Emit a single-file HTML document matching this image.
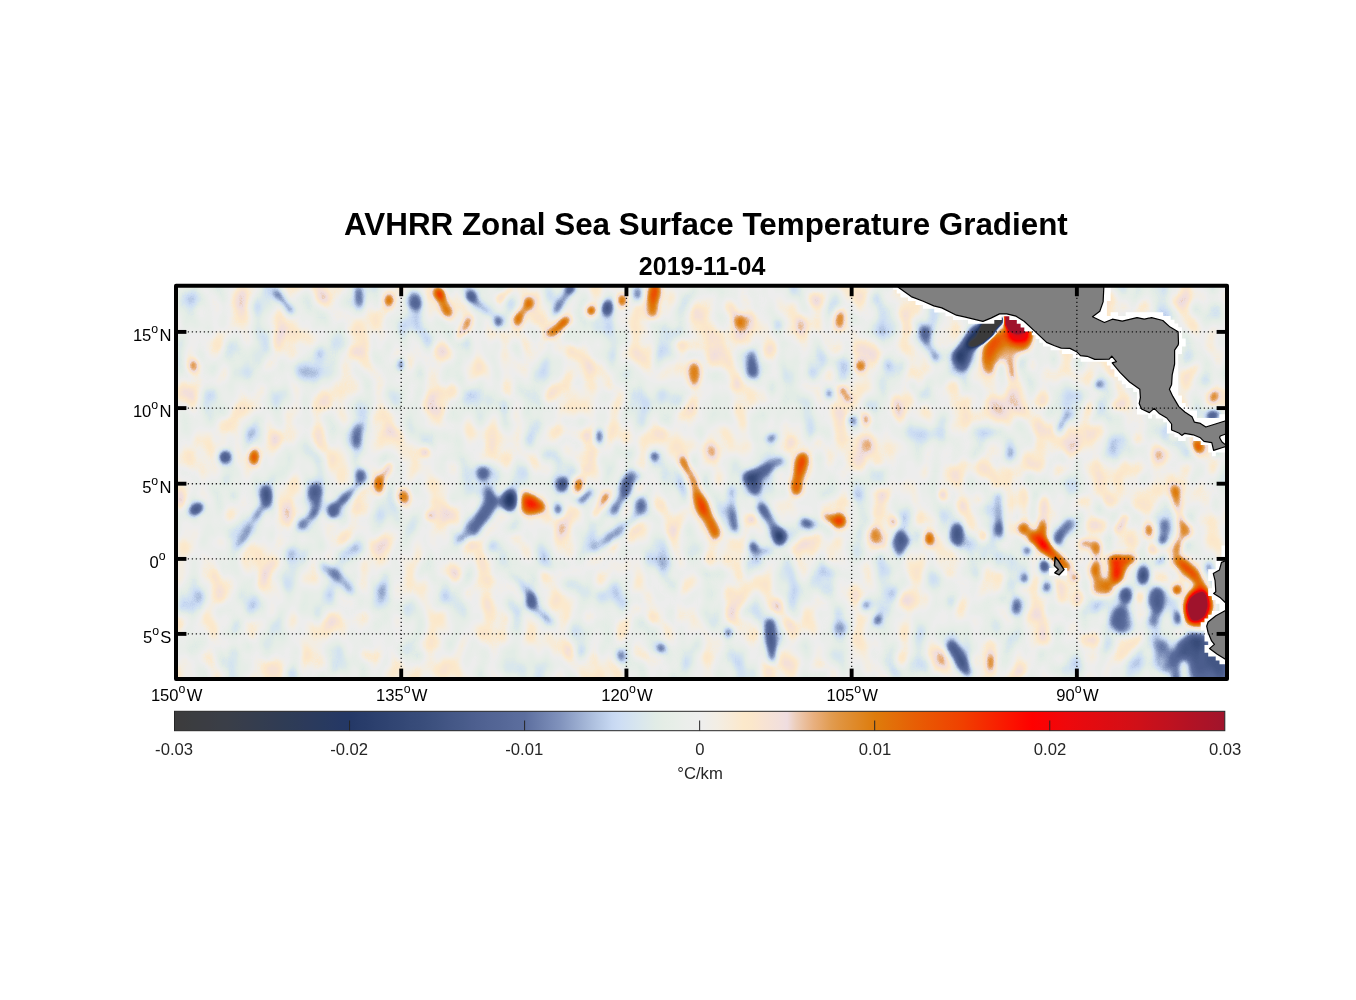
<!DOCTYPE html>
<html><head><meta charset="utf-8"><title>AVHRR Zonal Sea Surface Temperature Gradient</title>
<style>html,body{margin:0;padding:0;background:#fff}body{width:1356px;height:1000px;overflow:hidden;font-family:"Liberation Sans",sans-serif}svg{display:block;position:absolute;left:0;top:0}text{font-family:"Liberation Sans",sans-serif}</style></head><body>
<svg width="1356" height="1000" viewBox="0 0 1356 1000">
<defs>
<clipPath id="clip"><rect x="176" y="285.7" width="1051" height="393.3"/></clipPath>
<filter id="bl2" x="150" y="260" width="1110" height="450" filterUnits="userSpaceOnUse" color-interpolation-filters="sRGB"><feGaussianBlur stdDeviation="3.7"/></filter>
<filter id="bl1" x="150" y="260" width="1110" height="450" filterUnits="userSpaceOnUse" color-interpolation-filters="sRGB"><feGaussianBlur stdDeviation="1.8"/></filter>
<filter id="bl4" x="150" y="260" width="1110" height="450" filterUnits="userSpaceOnUse" color-interpolation-filters="sRGB"><feGaussianBlur stdDeviation="4.0"/></filter>
<filter id="cm" x="170" y="280" width="1064" height="406" filterUnits="userSpaceOnUse" color-interpolation-filters="sRGB">
<feTurbulence type="fractalNoise" baseFrequency="0.040 0.026" numOctaves="2" seed="7" result="n"/>
<feColorMatrix in="n" type="matrix" values="0.185 0 0 0 0.4075  0.185 0 0 0 0.4075  0.185 0 0 0 0.4075  0 0 0 0 1" result="n2"/>
<feComposite in="SourceGraphic" in2="n2" operator="arithmetic" k1="0" k2="1" k3="1" k4="-0.5" result="s"/>
<feComponentTransfer in="s"><feFuncR type="table" tableValues="0.235 0.235 0.235 0.235 0.235 0.235 0.235 0.235 0.235 0.235 0.235 0.235 0.235 0.235 0.235 0.235 0.235 0.235 0.235 0.235 0.235 0.234 0.233 0.231 0.230 0.229 0.227 0.221 0.214 0.208 0.201 0.195 0.188 0.182 0.176 0.171 0.165 0.159 0.153 0.147 0.141 0.151 0.161 0.171 0.180 0.190 0.200 0.210 0.220 0.232 0.245 0.258 0.271 0.283 0.296 0.309 0.322 0.331 0.341 0.351 0.361 0.396 0.431 0.467 0.502 0.549 0.596 0.643 0.690 0.734 0.778 0.808 0.827 0.847 0.865 0.883 0.897 0.907 0.918 0.925 0.933 0.943 0.953 0.964 0.976 0.988 0.986 0.975 0.965 0.951 0.937 0.925 0.918 0.910 0.897 0.884 0.877 0.876 0.874 0.872 0.871 0.878 0.886 0.894 0.902 0.910 0.916 0.922 0.929 0.935 0.941 0.949 0.957 0.965 0.973 0.980 0.987 0.993 1.000 0.983 0.967 0.950 0.933 0.919 0.904 0.889 0.875 0.860 0.845 0.830 0.816 0.797 0.778 0.759 0.740 0.722 0.703 0.684 0.665 0.646 0.627 0.627 0.627 0.627 0.627 0.627 0.627 0.627 0.627 0.627 0.627 0.627 0.627 0.627 0.627 0.627 0.627 0.627 0.627 0.627 0.627"/><feFuncG type="table" tableValues="0.235 0.235 0.235 0.235 0.235 0.235 0.235 0.235 0.235 0.235 0.235 0.235 0.235 0.235 0.235 0.235 0.235 0.235 0.235 0.235 0.235 0.237 0.238 0.239 0.241 0.242 0.243 0.242 0.241 0.239 0.238 0.237 0.235 0.233 0.231 0.229 0.227 0.225 0.224 0.222 0.220 0.229 0.239 0.249 0.259 0.269 0.278 0.288 0.298 0.310 0.322 0.333 0.345 0.357 0.369 0.380 0.392 0.402 0.412 0.422 0.431 0.467 0.502 0.537 0.573 0.620 0.667 0.714 0.761 0.803 0.846 0.872 0.887 0.902 0.913 0.925 0.930 0.932 0.933 0.933 0.933 0.933 0.933 0.926 0.919 0.913 0.904 0.895 0.886 0.876 0.867 0.804 0.747 0.690 0.651 0.612 0.582 0.558 0.534 0.510 0.486 0.461 0.436 0.411 0.386 0.361 0.339 0.317 0.295 0.273 0.251 0.220 0.188 0.157 0.125 0.094 0.063 0.031 0.000 0.008 0.016 0.024 0.031 0.035 0.039 0.043 0.047 0.051 0.055 0.059 0.063 0.064 0.066 0.067 0.069 0.071 0.072 0.074 0.075 0.077 0.078 0.078 0.078 0.078 0.078 0.078 0.078 0.078 0.078 0.078 0.078 0.078 0.078 0.078 0.078 0.078 0.078 0.078 0.078 0.078 0.078"/><feFuncB type="table" tableValues="0.235 0.235 0.235 0.235 0.235 0.235 0.235 0.235 0.235 0.235 0.235 0.235 0.235 0.235 0.235 0.235 0.235 0.235 0.235 0.235 0.235 0.243 0.251 0.259 0.267 0.275 0.282 0.290 0.298 0.306 0.314 0.322 0.329 0.338 0.347 0.356 0.365 0.374 0.382 0.391 0.400 0.410 0.420 0.429 0.439 0.449 0.459 0.469 0.478 0.491 0.504 0.517 0.529 0.542 0.555 0.568 0.580 0.590 0.600 0.610 0.620 0.649 0.678 0.708 0.737 0.773 0.808 0.843 0.878 0.914 0.950 0.957 0.945 0.933 0.919 0.904 0.903 0.910 0.918 0.925 0.933 0.914 0.894 0.862 0.830 0.797 0.797 0.818 0.839 0.859 0.878 0.725 0.614 0.502 0.410 0.319 0.252 0.201 0.149 0.098 0.047 0.041 0.035 0.028 0.022 0.016 0.013 0.009 0.006 0.003 0.000 0.000 0.000 0.000 0.000 0.000 0.000 0.000 0.000 0.012 0.024 0.035 0.047 0.053 0.059 0.065 0.071 0.076 0.082 0.088 0.094 0.102 0.110 0.118 0.125 0.133 0.141 0.149 0.157 0.165 0.173 0.173 0.173 0.173 0.173 0.173 0.173 0.173 0.173 0.173 0.173 0.173 0.173 0.173 0.173 0.173 0.173 0.173 0.173 0.173 0.173"/><feFuncA type="linear" slope="0" intercept="1"/></feComponentTransfer>
</filter>
<linearGradient id="cb" x1="0" x2="1" y1="0" y2="0">
<stop offset="0.0000" stop-color="#3c3c3c"/>
<stop offset="0.0083" stop-color="#3c3c3e"/>
<stop offset="0.0167" stop-color="#3b3d40"/>
<stop offset="0.0250" stop-color="#3b3d42"/>
<stop offset="0.0333" stop-color="#3b3d44"/>
<stop offset="0.0417" stop-color="#3a3e46"/>
<stop offset="0.0500" stop-color="#3a3e48"/>
<stop offset="0.0583" stop-color="#383e4a"/>
<stop offset="0.0667" stop-color="#373d4c"/>
<stop offset="0.0750" stop-color="#353d4e"/>
<stop offset="0.0833" stop-color="#333d50"/>
<stop offset="0.0917" stop-color="#323c52"/>
<stop offset="0.1000" stop-color="#303c54"/>
<stop offset="0.1083" stop-color="#2e3c56"/>
<stop offset="0.1167" stop-color="#2d3b58"/>
<stop offset="0.1250" stop-color="#2c3a5b"/>
<stop offset="0.1333" stop-color="#2a3a5d"/>
<stop offset="0.1417" stop-color="#283a5f"/>
<stop offset="0.1500" stop-color="#273962"/>
<stop offset="0.1583" stop-color="#253864"/>
<stop offset="0.1667" stop-color="#243866"/>
<stop offset="0.1750" stop-color="#273b69"/>
<stop offset="0.1833" stop-color="#293d6b"/>
<stop offset="0.1917" stop-color="#2c406e"/>
<stop offset="0.2000" stop-color="#2e4270"/>
<stop offset="0.2083" stop-color="#314573"/>
<stop offset="0.2167" stop-color="#334775"/>
<stop offset="0.2250" stop-color="#364a78"/>
<stop offset="0.2333" stop-color="#384c7a"/>
<stop offset="0.2417" stop-color="#3b4f7d"/>
<stop offset="0.2500" stop-color="#3e5280"/>
<stop offset="0.2583" stop-color="#425584"/>
<stop offset="0.2667" stop-color="#455887"/>
<stop offset="0.2750" stop-color="#485b8a"/>
<stop offset="0.2833" stop-color="#4c5e8e"/>
<stop offset="0.2917" stop-color="#4f6191"/>
<stop offset="0.3000" stop-color="#526494"/>
<stop offset="0.3083" stop-color="#546696"/>
<stop offset="0.3167" stop-color="#576999"/>
<stop offset="0.3250" stop-color="#5a6c9c"/>
<stop offset="0.3333" stop-color="#5c6e9e"/>
<stop offset="0.3417" stop-color="#6577a6"/>
<stop offset="0.3500" stop-color="#6e80ad"/>
<stop offset="0.3583" stop-color="#7789b5"/>
<stop offset="0.3667" stop-color="#8092bc"/>
<stop offset="0.3750" stop-color="#8c9ec5"/>
<stop offset="0.3833" stop-color="#98aace"/>
<stop offset="0.3917" stop-color="#a4b6d7"/>
<stop offset="0.4000" stop-color="#b0c2e0"/>
<stop offset="0.4083" stop-color="#bbcde9"/>
<stop offset="0.4167" stop-color="#c7d8f2"/>
<stop offset="0.4250" stop-color="#cedef4"/>
<stop offset="0.4333" stop-color="#d3e2f1"/>
<stop offset="0.4417" stop-color="#d8e6ee"/>
<stop offset="0.4500" stop-color="#dde9ea"/>
<stop offset="0.4583" stop-color="#e1ece6"/>
<stop offset="0.4667" stop-color="#e5ede6"/>
<stop offset="0.4750" stop-color="#e7eee8"/>
<stop offset="0.4833" stop-color="#eaeeea"/>
<stop offset="0.4917" stop-color="#eceeec"/>
<stop offset="0.5000" stop-color="#eeeeee"/>
<stop offset="0.5083" stop-color="#f0eee9"/>
<stop offset="0.5167" stop-color="#f3eee4"/>
<stop offset="0.5250" stop-color="#f6ecdc"/>
<stop offset="0.5333" stop-color="#f9ead4"/>
<stop offset="0.5417" stop-color="#fce9cb"/>
<stop offset="0.5500" stop-color="#fbe7cb"/>
<stop offset="0.5583" stop-color="#f9e4d1"/>
<stop offset="0.5667" stop-color="#f6e2d6"/>
<stop offset="0.5750" stop-color="#f3e0db"/>
<stop offset="0.5833" stop-color="#efdde0"/>
<stop offset="0.5917" stop-color="#eccdb9"/>
<stop offset="0.6000" stop-color="#eabe9c"/>
<stop offset="0.6083" stop-color="#e8b080"/>
<stop offset="0.6167" stop-color="#e5a669"/>
<stop offset="0.6250" stop-color="#e19c51"/>
<stop offset="0.6333" stop-color="#e09440"/>
<stop offset="0.6417" stop-color="#df8e33"/>
<stop offset="0.6500" stop-color="#df8826"/>
<stop offset="0.6583" stop-color="#de8219"/>
<stop offset="0.6667" stop-color="#de7c0c"/>
<stop offset="0.6750" stop-color="#e0760a"/>
<stop offset="0.6833" stop-color="#e26f09"/>
<stop offset="0.6917" stop-color="#e46907"/>
<stop offset="0.7000" stop-color="#e66206"/>
<stop offset="0.7083" stop-color="#e85c04"/>
<stop offset="0.7167" stop-color="#ea5603"/>
<stop offset="0.7250" stop-color="#eb5102"/>
<stop offset="0.7333" stop-color="#ed4b02"/>
<stop offset="0.7417" stop-color="#ee4601"/>
<stop offset="0.7500" stop-color="#f04000"/>
<stop offset="0.7583" stop-color="#f23800"/>
<stop offset="0.7667" stop-color="#f43000"/>
<stop offset="0.7750" stop-color="#f62800"/>
<stop offset="0.7833" stop-color="#f82000"/>
<stop offset="0.7917" stop-color="#fa1800"/>
<stop offset="0.8000" stop-color="#fc1000"/>
<stop offset="0.8083" stop-color="#fd0800"/>
<stop offset="0.8167" stop-color="#ff0000"/>
<stop offset="0.8250" stop-color="#fb0203"/>
<stop offset="0.8333" stop-color="#f60406"/>
<stop offset="0.8417" stop-color="#f20609"/>
<stop offset="0.8500" stop-color="#ee080c"/>
<stop offset="0.8583" stop-color="#ea090d"/>
<stop offset="0.8667" stop-color="#e60a0f"/>
<stop offset="0.8750" stop-color="#e30b10"/>
<stop offset="0.8833" stop-color="#df0c12"/>
<stop offset="0.8917" stop-color="#db0d13"/>
<stop offset="0.9000" stop-color="#d80e15"/>
<stop offset="0.9083" stop-color="#d40f16"/>
<stop offset="0.9167" stop-color="#d01018"/>
<stop offset="0.9250" stop-color="#cb101a"/>
<stop offset="0.9333" stop-color="#c6111c"/>
<stop offset="0.9417" stop-color="#c2111e"/>
<stop offset="0.9500" stop-color="#bd1220"/>
<stop offset="0.9583" stop-color="#b81222"/>
<stop offset="0.9667" stop-color="#b31224"/>
<stop offset="0.9750" stop-color="#ae1326"/>
<stop offset="0.9833" stop-color="#aa1328"/>
<stop offset="0.9917" stop-color="#a5142a"/>
<stop offset="1.0000" stop-color="#a0142c"/>
</linearGradient>
</defs>
<g clip-path="url(#clip)">
<g filter="url(#cm)">
<rect x="160" y="270" width="1090" height="430" fill="#7e7e7e"/>
<g filter="url(#bl4)">
<ellipse cx="1000" cy="410" rx="22" ry="14" fill="#878787"/>
<ellipse cx="1060" cy="440" rx="24" ry="16" fill="#878787"/>
<ellipse cx="1110" cy="470" rx="26" ry="12" fill="#878787"/>
<ellipse cx="1150" cy="500" rx="24" ry="14" fill="#878787"/>
<ellipse cx="1020" cy="470" rx="20" ry="10" fill="#878787"/>
<ellipse cx="965" cy="470" rx="14" ry="12" fill="#878787"/>
<ellipse cx="1130" cy="540" rx="16" ry="14" fill="#878787"/>
<ellipse cx="760" cy="330" rx="30" ry="18" fill="#868686"/>
<ellipse cx="880" cy="350" rx="26" ry="16" fill="#868686"/>
<ellipse cx="850" cy="450" rx="26" ry="14" fill="#868686"/>
<ellipse cx="305" cy="370" rx="4" ry="9" fill="#777777"/>
<ellipse cx="321" cy="353" rx="5" ry="6" fill="#646464"/>
<ellipse cx="251" cy="432" rx="4" ry="7" fill="#646464"/>
<ellipse cx="200" cy="298" rx="9" ry="7" fill="#777777" transform="rotate(-30 200 298)"/>
<ellipse cx="233" cy="344" rx="5" ry="7" fill="#6f6f6f"/>
<polyline points="270,372 252,392" stroke="#6f6f6f" stroke-width="6" fill="none" stroke-linecap="round" stroke-linejoin="round"/>
<ellipse cx="343" cy="303" rx="4" ry="12" fill="#6f6f6f"/>
<ellipse cx="425" cy="340" rx="5" ry="9" fill="#6f6f6f"/>
<ellipse cx="420" cy="392" rx="6" ry="5" fill="#6f6f6f"/>
<ellipse cx="240" cy="300" rx="10" ry="14" fill="#838383"/>
<ellipse cx="215" cy="350" rx="7" ry="10" fill="#8a8a8a"/>
<ellipse cx="207" cy="382" rx="9" ry="8" fill="#8a8a8a"/>
<ellipse cx="277" cy="340" rx="5" ry="12" fill="#8c8c8c" transform="rotate(10 277 340)"/>
<ellipse cx="298" cy="355" rx="6" ry="8" fill="#8c8c8c" transform="rotate(30 298 355)"/>
<ellipse cx="321" cy="300" rx="8" ry="8" fill="#8b8b8b"/>
<ellipse cx="322" cy="402" rx="9" ry="9" fill="#8a8a8a"/>
<ellipse cx="355" cy="352" rx="8" ry="6" fill="#8c8c8c"/>
<ellipse cx="370" cy="370" rx="10" ry="12" fill="#898989"/>
<ellipse cx="355" cy="385" rx="8" ry="10" fill="#8a8a8a"/>
<ellipse cx="224" cy="425" rx="5" ry="9" fill="#8c8c8c"/>
<ellipse cx="275" cy="437" rx="8" ry="7" fill="#8b8b8b"/>
<ellipse cx="320" cy="440" rx="7" ry="12" fill="#8a8a8a"/>
<ellipse cx="378" cy="418" rx="8" ry="6" fill="#8c8c8c"/>
<ellipse cx="390" cy="432" rx="8" ry="5" fill="#8c8c8c"/>
<ellipse cx="190" cy="400" rx="8" ry="14" fill="#858585"/>
<ellipse cx="190" cy="460" rx="10" ry="10" fill="#8a8a8a"/>
<ellipse cx="383" cy="312" rx="5" ry="8" fill="#8c8c8c"/>
<ellipse cx="432" cy="376" rx="6" ry="8" fill="#8c8c8c"/>
<ellipse cx="440" cy="350" rx="6" ry="8" fill="#8c8c8c"/>
<ellipse cx="536" cy="330" rx="4" ry="8" fill="#6f6f6f"/>
<ellipse cx="525" cy="393" rx="7" ry="5" fill="#6f6f6f"/>
<ellipse cx="469" cy="393" rx="5" ry="4" fill="#6f6f6f"/>
<ellipse cx="530" cy="439" rx="6" ry="10" fill="#717171"/>
<ellipse cx="444" cy="436" rx="3" ry="6" fill="#6f6f6f"/>
<ellipse cx="546" cy="456" rx="8" ry="4" fill="#6f6f6f" transform="rotate(-30 546 456)"/>
<ellipse cx="676" cy="336" rx="5" ry="6" fill="#6f6f6f"/>
<ellipse cx="628" cy="392" rx="4" ry="6" fill="#6f6f6f"/>
<ellipse cx="662" cy="422" rx="4" ry="7" fill="#6f6f6f"/>
<polyline points="517,332 527,356" stroke="#8c8c8c" stroke-width="7" fill="none" stroke-linecap="round" stroke-linejoin="round"/>
<polyline points="572,375 548,398" stroke="#8c8c8c" stroke-width="8" fill="none" stroke-linecap="round" stroke-linejoin="round"/>
<polyline points="570,350 600,372 612,388" stroke="#8c8c8c" stroke-width="9" fill="none" stroke-linecap="round" stroke-linejoin="round"/>
<ellipse cx="446" cy="352" rx="7" ry="8" fill="#858585"/>
<ellipse cx="452" cy="392" rx="9" ry="7" fill="#8b8b8b"/>
<ellipse cx="508" cy="395" rx="5" ry="8" fill="#8c8c8c"/>
<ellipse cx="492" cy="450" rx="5" ry="12" fill="#8c8c8c"/>
<ellipse cx="566" cy="452" rx="5" ry="10" fill="#8c8c8c"/>
<ellipse cx="560" cy="432" rx="9" ry="5" fill="#8c8c8c"/>
<ellipse cx="585" cy="435" rx="8" ry="6" fill="#8c8c8c"/>
<ellipse cx="625" cy="440" rx="9" ry="8" fill="#8a8a8a"/>
<ellipse cx="648" cy="355" rx="5" ry="12" fill="#8c8c8c"/>
<ellipse cx="690" cy="345" rx="14" ry="5" fill="#8c8c8c"/>
<ellipse cx="682" cy="414" rx="3" ry="8" fill="#999999"/>
<ellipse cx="505" cy="462" rx="5" ry="10" fill="#8c8c8c"/>
<ellipse cx="458" cy="470" rx="5" ry="8" fill="#8c8c8c"/>
<ellipse cx="440" cy="410" rx="4" ry="6" fill="#8c8c8c"/>
<ellipse cx="660" cy="470" rx="5" ry="6" fill="#8c8c8c"/>
<ellipse cx="690" cy="405" rx="8" ry="10" fill="#8a8a8a"/>
<ellipse cx="585" cy="470" rx="5" ry="6" fill="#8c8c8c"/>
<ellipse cx="771" cy="389" rx="6" ry="6" fill="#6f6f6f"/>
<ellipse cx="813" cy="373" rx="6" ry="7" fill="#6f6f6f"/>
<ellipse cx="922" cy="395" rx="8" ry="6" fill="#707070" transform="rotate(-30 922 395)"/>
<ellipse cx="883" cy="364" rx="7" ry="7" fill="#707070"/>
<ellipse cx="874" cy="300" rx="5" ry="7" fill="#6f6f6f"/>
<ellipse cx="957" cy="444" rx="3" ry="7" fill="#5e5e5e"/>
<ellipse cx="780" cy="325" rx="4" ry="6" fill="#6f6f6f"/>
<ellipse cx="858" cy="320" rx="5" ry="6" fill="#6f6f6f"/>
<ellipse cx="912" cy="385" rx="5" ry="8" fill="#6f6f6f"/>
<ellipse cx="950" cy="320" rx="4" ry="5" fill="#6f6f6f"/>
<ellipse cx="880" cy="426" rx="4" ry="5" fill="#6f6f6f"/>
<polyline points="730,304 737,320" stroke="#979797" stroke-width="7" fill="none" stroke-linecap="round" stroke-linejoin="round"/>
<ellipse cx="792" cy="442" rx="6" ry="6" fill="#919191"/>
<polyline points="894,396 900,420" stroke="#919191" stroke-width="7" fill="none" stroke-linecap="round" stroke-linejoin="round"/>
<ellipse cx="720" cy="350" rx="10" ry="20" fill="#898989"/>
<ellipse cx="770" cy="350" rx="6" ry="14" fill="#8b8b8b" transform="rotate(20 770 350)"/>
<ellipse cx="800" cy="330" rx="6" ry="14" fill="#8b8b8b"/>
<ellipse cx="815" cy="300" rx="6" ry="8" fill="#8c8c8c"/>
<ellipse cx="835" cy="352" rx="8" ry="6" fill="#8c8c8c"/>
<ellipse cx="830" cy="375" rx="6" ry="8" fill="#8c8c8c"/>
<ellipse cx="740" cy="385" rx="8" ry="8" fill="#8b8b8b"/>
<ellipse cx="712" cy="450" rx="6" ry="8" fill="#8c8c8c"/>
<ellipse cx="860" cy="436" rx="5" ry="10" fill="#8c8c8c"/>
<ellipse cx="905" cy="312" rx="7" ry="10" fill="#8a8a8a"/>
<ellipse cx="910" cy="330" rx="6" ry="5" fill="#8c8c8c"/>
<ellipse cx="942" cy="345" rx="4" ry="8" fill="#8c8c8c"/>
<ellipse cx="935" cy="450" rx="10" ry="12" fill="#898989"/>
<ellipse cx="955" cy="385" rx="8" ry="8" fill="#8b8b8b"/>
<ellipse cx="848" cy="470" rx="10" ry="6" fill="#8b8b8b"/>
<ellipse cx="700" cy="310" rx="8" ry="14" fill="#8a8a8a"/>
<ellipse cx="745" cy="300" rx="10" ry="6" fill="#8b8b8b"/>
<ellipse cx="880" cy="462" rx="8" ry="6" fill="#8c8c8c"/>
<ellipse cx="818" cy="440" rx="5" ry="8" fill="#8c8c8c"/>
<ellipse cx="979" cy="452" rx="4" ry="9" fill="#6f6f6f" transform="rotate(20 979 452)"/>
<ellipse cx="956" cy="442" rx="4" ry="7" fill="#6f6f6f"/>
<ellipse cx="1031" cy="475" rx="6" ry="4" fill="#6f6f6f"/>
<ellipse cx="1204.5" cy="381" rx="4" ry="7" fill="#6f6f6f"/>
<ellipse cx="1195" cy="308" rx="4" ry="6" fill="#6f6f6f"/>
<ellipse cx="1118" cy="440" rx="7" ry="6" fill="#6f6f6f"/>
<ellipse cx="1061" cy="454" rx="4" ry="6" fill="#6f6f6f"/>
<ellipse cx="1145" cy="419" rx="5" ry="4" fill="#6f6f6f"/>
<ellipse cx="1053" cy="360" rx="5" ry="5" fill="#6f6f6f"/>
<ellipse cx="1076" cy="364" rx="4" ry="4" fill="#6f6f6f"/>
<ellipse cx="1190" cy="358" rx="3" ry="6" fill="#6f6f6f"/>
<ellipse cx="1218" cy="371" rx="4" ry="4" fill="#6f6f6f"/>
<ellipse cx="1010" cy="455" rx="4" ry="5" fill="#6f6f6f"/>
<ellipse cx="1102" cy="403" rx="3" ry="5" fill="#6f6f6f"/>
<ellipse cx="1043" cy="398" rx="10" ry="10" fill="#919191"/>
<ellipse cx="1040" cy="425" rx="6" ry="12" fill="#939393"/>
<ellipse cx="1118" cy="405" rx="6" ry="5" fill="#999999"/>
<ellipse cx="1112" cy="371" rx="3" ry="4" fill="#999999"/>
<ellipse cx="960" cy="400" rx="10" ry="8" fill="#8a8a8a"/>
<ellipse cx="985" cy="420" rx="12" ry="8" fill="#8a8a8a" transform="rotate(30 985 420)"/>
<ellipse cx="995" cy="445" rx="6" ry="12" fill="#8b8b8b"/>
<ellipse cx="1025" cy="455" rx="6" ry="8" fill="#8c8c8c"/>
<ellipse cx="1010" cy="390" rx="5" ry="10" fill="#8c8c8c"/>
<ellipse cx="1090" cy="408" rx="5" ry="10" fill="#8c8c8c"/>
<ellipse cx="1095" cy="432" rx="6" ry="8" fill="#8c8c8c"/>
<ellipse cx="1140" cy="440" rx="8" ry="5" fill="#8c8c8c"/>
<ellipse cx="1160" cy="455" rx="10" ry="8" fill="#8a8a8a"/>
<ellipse cx="1190" cy="468" rx="8" ry="8" fill="#8b8b8b"/>
<ellipse cx="1198" cy="365" rx="4" ry="10" fill="#8c8c8c" transform="rotate(25 1198 365)"/>
<ellipse cx="1210" cy="395" rx="6" ry="10" fill="#8b8b8b"/>
<ellipse cx="1125" cy="308" rx="4" ry="5" fill="#8c8c8c"/>
<ellipse cx="1145" cy="305" rx="5" ry="6" fill="#8c8c8c"/>
<ellipse cx="1175" cy="302" rx="6" ry="5" fill="#8c8c8c"/>
<ellipse cx="1062" cy="470" rx="8" ry="5" fill="#8c8c8c"/>
<ellipse cx="1140" cy="470" rx="6" ry="6" fill="#8c8c8c"/>
<ellipse cx="1033" cy="365" rx="6" ry="6" fill="#8c8c8c"/>
<ellipse cx="1215" cy="300" rx="5" ry="6" fill="#8c8c8c"/>
<ellipse cx="290" cy="552" rx="8" ry="6" fill="#707070"/>
<ellipse cx="218" cy="660" rx="5" ry="12" fill="#6f6f6f"/>
<ellipse cx="407" cy="654" rx="4" ry="11" fill="#6f6f6f"/>
<polyline points="250,608 232,634" stroke="#6f6f6f" stroke-width="6" fill="none" stroke-linecap="round" stroke-linejoin="round"/>
<ellipse cx="232" cy="496" rx="5" ry="5" fill="#6f6f6f"/>
<ellipse cx="198" cy="594" rx="8" ry="4" fill="#6f6f6f" transform="rotate(30 198 594)"/>
<ellipse cx="355" cy="548" rx="5" ry="4" fill="#6f6f6f"/>
<ellipse cx="382" cy="588" rx="4" ry="4" fill="#6f6f6f"/>
<ellipse cx="376" cy="624" rx="4" ry="4" fill="#6f6f6f"/>
<ellipse cx="290" cy="672" rx="5" ry="5" fill="#6f6f6f"/>
<ellipse cx="248" cy="645" rx="3" ry="6" fill="#6f6f6f"/>
<ellipse cx="200" cy="640" rx="4" ry="6" fill="#6f6f6f"/>
<ellipse cx="220" cy="592" rx="10" ry="10" fill="#8a8a8a"/>
<polyline points="275,562 255,590" stroke="#8c8c8c" stroke-width="8" fill="none" stroke-linecap="round" stroke-linejoin="round"/>
<ellipse cx="332" cy="622" rx="8" ry="8" fill="#858585"/>
<ellipse cx="378" cy="544" rx="9" ry="8" fill="#868686"/>
<ellipse cx="398" cy="592" rx="6" ry="8" fill="#8c8c8c"/>
<ellipse cx="232" cy="514" rx="10" ry="7" fill="#8a8a8a"/>
<ellipse cx="360" cy="618" rx="5" ry="8" fill="#8c8c8c"/>
<ellipse cx="180" cy="500" rx="6" ry="10" fill="#8b8b8b"/>
<ellipse cx="180" cy="622" rx="5" ry="10" fill="#8c8c8c"/>
<ellipse cx="438" cy="568" rx="8" ry="10" fill="#8a8a8a"/>
<ellipse cx="215" cy="575" rx="8" ry="4" fill="#8c8c8c"/>
<ellipse cx="362" cy="510" rx="8" ry="6" fill="#8c8c8c"/>
<ellipse cx="285" cy="515" rx="5" ry="10" fill="#8c8c8c"/>
<ellipse cx="272" cy="668" rx="6" ry="6" fill="#8c8c8c"/>
<ellipse cx="322" cy="666" rx="6" ry="8" fill="#8c8c8c"/>
<ellipse cx="370" cy="655" rx="8" ry="6" fill="#8c8c8c"/>
<ellipse cx="420" cy="646" rx="4" ry="6" fill="#8c8c8c"/>
<ellipse cx="345" cy="540" rx="6" ry="10" fill="#8b8b8b" transform="rotate(30 345 540)"/>
<ellipse cx="493" cy="546" rx="4" ry="4" fill="#606060"/>
<ellipse cx="654" cy="560" rx="4" ry="5" fill="#6f6f6f"/>
<ellipse cx="671" cy="584" rx="3" ry="5" fill="#6f6f6f"/>
<ellipse cx="486" cy="646" rx="5" ry="8" fill="#6f6f6f"/>
<ellipse cx="612" cy="630" rx="4" ry="10" fill="#6f6f6f"/>
<ellipse cx="568" cy="565" rx="6" ry="4" fill="#6f6f6f"/>
<ellipse cx="568" cy="582" rx="3" ry="4" fill="#6f6f6f"/>
<ellipse cx="684" cy="602" rx="4" ry="5" fill="#6f6f6f"/>
<ellipse cx="582" cy="652" rx="3" ry="5" fill="#6f6f6f"/>
<ellipse cx="672" cy="660" rx="4" ry="4" fill="#6f6f6f"/>
<ellipse cx="444" cy="595" rx="4" ry="4" fill="#6f6f6f"/>
<ellipse cx="450" cy="516" rx="8" ry="8" fill="#868686"/>
<ellipse cx="514" cy="537" rx="5" ry="7" fill="#969696"/>
<ellipse cx="564" cy="536" rx="9" ry="10" fill="#848484"/>
<polyline points="672,532 680,565" stroke="#919191" stroke-width="8" fill="none" stroke-linecap="round" stroke-linejoin="round"/>
<ellipse cx="490" cy="582" rx="6" ry="6" fill="#8c8c8c"/>
<ellipse cx="506" cy="618" rx="7" ry="9" fill="#8b8b8b"/>
<polyline points="636,608 668,628" stroke="#8c8c8c" stroke-width="8" fill="none" stroke-linecap="round" stroke-linejoin="round"/>
<ellipse cx="640" cy="654" rx="8" ry="7" fill="#8b8b8b"/>
<ellipse cx="604" cy="580" rx="9" ry="10" fill="#8a8a8a"/>
<ellipse cx="454" cy="574" rx="8" ry="6" fill="#8c8c8c"/>
<ellipse cx="464" cy="592" rx="5" ry="8" fill="#8c8c8c"/>
<ellipse cx="545" cy="575" rx="8" ry="6" fill="#8c8c8c"/>
<ellipse cx="585" cy="620" rx="6" ry="10" fill="#8b8b8b"/>
<ellipse cx="570" cy="650" rx="4" ry="8" fill="#8c8c8c"/>
<ellipse cx="470" cy="545" rx="14" ry="4" fill="#8c8c8c" transform="rotate(-20 470 545)"/>
<ellipse cx="660" cy="505" rx="5" ry="8" fill="#8c8c8c"/>
<ellipse cx="615" cy="545" rx="12" ry="5" fill="#8c8c8c" transform="rotate(-25 615 545)"/>
<ellipse cx="894" cy="594" rx="5" ry="8" fill="#6f6f6f" transform="rotate(25 894 594)"/>
<ellipse cx="925" cy="666" rx="4" ry="9" fill="#6f6f6f"/>
<ellipse cx="822" cy="674" rx="5" ry="4" fill="#5e5e5e"/>
<ellipse cx="840" cy="628" rx="9" ry="5" fill="#6f6f6f"/>
<ellipse cx="824" cy="580" rx="14" ry="16" fill="#717171"/>
<ellipse cx="758" cy="560" rx="8" ry="5" fill="#6f6f6f"/>
<ellipse cx="720" cy="575" rx="4" ry="3" fill="#6f6f6f"/>
<ellipse cx="745" cy="612" rx="5" ry="6" fill="#6f6f6f" transform="rotate(30 745 612)"/>
<ellipse cx="722" cy="660" rx="4" ry="6" fill="#6f6f6f"/>
<ellipse cx="952" cy="600" rx="6" ry="6" fill="#6f6f6f"/>
<ellipse cx="884" cy="660" rx="4" ry="4" fill="#6f6f6f"/>
<ellipse cx="858" cy="575" rx="4" ry="5" fill="#6f6f6f"/>
<ellipse cx="905" cy="582" rx="4" ry="3" fill="#6f6f6f"/>
<ellipse cx="826" cy="492" rx="3" ry="5" fill="#6f6f6f"/>
<ellipse cx="855" cy="495" rx="4" ry="5" fill="#6f6f6f"/>
<ellipse cx="779" cy="606" rx="6" ry="7" fill="#919191"/>
<polyline points="792,550 820,534" stroke="#8c8c8c" stroke-width="7" fill="none" stroke-linecap="round" stroke-linejoin="round"/>
<ellipse cx="878" cy="494" rx="12" ry="7" fill="#8a8a8a"/>
<ellipse cx="941" cy="658" rx="5" ry="9" fill="#939393"/>
<ellipse cx="756" cy="630" rx="4" ry="12" fill="#8c8c8c"/>
<ellipse cx="788" cy="624" rx="5" ry="8" fill="#8c8c8c"/>
<ellipse cx="728" cy="592" rx="8" ry="5" fill="#8c8c8c" transform="rotate(-25 728 592)"/>
<ellipse cx="728" cy="612" rx="4" ry="6" fill="#8c8c8c"/>
<ellipse cx="845" cy="498" rx="4" ry="10" fill="#8c8c8c"/>
<ellipse cx="905" cy="600" rx="7" ry="4" fill="#8c8c8c" transform="rotate(-30 905 600)"/>
<ellipse cx="950" cy="575" rx="5" ry="4" fill="#8c8c8c"/>
<ellipse cx="900" cy="660" rx="6" ry="8" fill="#8c8c8c"/>
<ellipse cx="875" cy="540" rx="12" ry="14" fill="#898989"/>
<ellipse cx="925" cy="520" rx="12" ry="8" fill="#8a8a8a"/>
<ellipse cx="710" cy="560" rx="5" ry="10" fill="#8c8c8c"/>
<ellipse cx="740" cy="575" rx="4" ry="4" fill="#8c8c8c"/>
<ellipse cx="970" cy="543" rx="8" ry="7" fill="#717171"/>
<ellipse cx="1041" cy="654" rx="6" ry="8" fill="#707070"/>
<ellipse cx="1060.5" cy="630" rx="6" ry="5" fill="#6f6f6f"/>
<ellipse cx="1096" cy="608" rx="3" ry="4" fill="#606060"/>
<ellipse cx="1000" cy="600" rx="5" ry="5" fill="#6f6f6f"/>
<ellipse cx="975" cy="575" rx="6" ry="4" fill="#6f6f6f"/>
<ellipse cx="1010" cy="640" rx="5" ry="5" fill="#6f6f6f"/>
<ellipse cx="1075" cy="660" rx="5" ry="8" fill="#6f6f6f"/>
<ellipse cx="1110" cy="642" rx="6" ry="8" fill="#707070"/>
<ellipse cx="1156.8" cy="646" rx="7" ry="8" fill="#717171"/>
<ellipse cx="1165" cy="662.5" rx="7" ry="8" fill="#616161"/>
<ellipse cx="1004" cy="555" rx="5" ry="4" fill="#6f6f6f"/>
<ellipse cx="1085" cy="605" rx="4" ry="6" fill="#6f6f6f"/>
<polyline points="1024,490 1024,520" stroke="#969696" stroke-width="6" fill="none" stroke-linecap="round" stroke-linejoin="round"/>
<polyline points="1044,500 1043,522" stroke="#969696" stroke-width="6" fill="none" stroke-linecap="round" stroke-linejoin="round"/>
<polyline points="1059,578 1060,602" stroke="#969696" stroke-width="7" fill="none" stroke-linecap="round" stroke-linejoin="round"/>
<ellipse cx="1140.6" cy="597.6" rx="4" ry="5" fill="#969696"/>
<polyline points="1140,636 1125,656" stroke="#969696" stroke-width="7" fill="none" stroke-linecap="round" stroke-linejoin="round"/>
<ellipse cx="990" cy="645" rx="5" ry="8" fill="#8c8c8c"/>
<ellipse cx="960" cy="505" rx="5" ry="8" fill="#8c8c8c"/>
<ellipse cx="980" cy="500" rx="6" ry="5" fill="#8c8c8c"/>
<ellipse cx="1000" cy="575" rx="8" ry="6" fill="#8c8c8c"/>
<ellipse cx="990" cy="610" rx="6" ry="10" fill="#8b8b8b"/>
<ellipse cx="1035" cy="615" rx="6" ry="6" fill="#8c8c8c"/>
<ellipse cx="1085" cy="500" rx="8" ry="5" fill="#8c8c8c"/>
<ellipse cx="1110" cy="500" rx="6" ry="8" fill="#8c8c8c"/>
<ellipse cx="1095" cy="525" rx="12" ry="8" fill="#8a8a8a"/>
<ellipse cx="1090" cy="640" rx="12" ry="6" fill="#8b8b8b"/>
<ellipse cx="1080" cy="600" rx="5" ry="8" fill="#8c8c8c"/>
<ellipse cx="1140" cy="505" rx="5" ry="8" fill="#8c8c8c"/>
<ellipse cx="1205" cy="510" rx="8" ry="14" fill="#8a8a8a"/>
<ellipse cx="1215" cy="490" rx="5" ry="6" fill="#8c8c8c"/>
<ellipse cx="1145" cy="615" rx="4" ry="5" fill="#8c8c8c"/>
<ellipse cx="1060" cy="660" rx="6" ry="6" fill="#8c8c8c"/>
<ellipse cx="1020" cy="670" rx="5" ry="5" fill="#8c8c8c"/>
<ellipse cx="1165" cy="580" rx="5" ry="8" fill="#8c8c8c"/>
<ellipse cx="1135" cy="575" rx="3" ry="8" fill="#8c8c8c"/>
</g>
<g filter="url(#bl2)">
<ellipse cx="225" cy="457" rx="7" ry="7" fill="#505050"/>
<ellipse cx="253.6" cy="456.4" rx="4.5" ry="8.5" fill="#b8b8b8"/>
<ellipse cx="193.6" cy="366" rx="4.5" ry="7.5" fill="#a2a2a2"/>
<polyline points="277,293 291,311" stroke="#545454" stroke-width="7" fill="none" stroke-linecap="round" stroke-linejoin="round"/>
<polyline points="358,289 360,305" stroke="#5e5e5e" stroke-width="5.5" fill="none" stroke-linecap="round" stroke-linejoin="round"/>
<ellipse cx="389" cy="300" rx="4.5" ry="6.5" fill="#a8a8a8"/>
<ellipse cx="415" cy="300" rx="8" ry="10" fill="#616161"/>
<ellipse cx="401" cy="364" rx="3" ry="7" fill="#434343"/>
<polyline points="359,428 356,444" stroke="#626262" stroke-width="9" fill="none" stroke-linecap="round" stroke-linejoin="round"/>
<ellipse cx="425" cy="452" rx="3.5" ry="4.5" fill="#b0b0b0"/>
<polyline points="439,291 447,313" stroke="#afafaf" stroke-width="9" fill="none" stroke-linecap="round" stroke-linejoin="round"/>
<ellipse cx="440" cy="294" rx="4" ry="5" fill="#d3d3d3"/>
<polyline points="470,318 458,338" stroke="#a1a1a1" stroke-width="6" fill="none" stroke-linecap="round" stroke-linejoin="round"/>
<ellipse cx="471" cy="297" rx="5" ry="5" fill="#474747"/>
<polyline points="474,301 489,313" stroke="#5f5f5f" stroke-width="7" fill="none" stroke-linecap="round" stroke-linejoin="round"/>
<ellipse cx="498" cy="322" rx="5" ry="7" fill="#505050"/>
<polyline points="510,289 499,300" stroke="#a8a8a8" stroke-width="5" fill="none" stroke-linecap="round" stroke-linejoin="round"/>
<ellipse cx="528" cy="303" rx="3.5" ry="6" fill="#b8b8b8"/>
<ellipse cx="517" cy="320" rx="5" ry="7" fill="#acacac"/>
<polyline points="526,307 519,316" stroke="#b3b3b3" stroke-width="4" fill="none" stroke-linecap="round" stroke-linejoin="round"/>
<polyline points="569,291 555,313" stroke="#5b5b5b" stroke-width="6.5" fill="none" stroke-linecap="round" stroke-linejoin="round"/>
<ellipse cx="571" cy="288" rx="5" ry="4" fill="#454545"/>
<polyline points="570,319 549,335" stroke="#acacac" stroke-width="5" fill="none" stroke-linecap="round" stroke-linejoin="round"/>
<ellipse cx="565" cy="322" rx="5" ry="3.5" fill="#bababa" transform="rotate(-35 565 322)"/>
<ellipse cx="591.4" cy="311" rx="4.5" ry="5" fill="#bababa"/>
<ellipse cx="607" cy="308" rx="4.5" ry="7.5" fill="#4a4a4a"/>
<ellipse cx="622" cy="300" rx="4" ry="7" fill="#b5b5b5"/>
<ellipse cx="638" cy="294" rx="4.5" ry="8" fill="#515151"/>
<polyline points="655,288 652,314" stroke="#a7a7a7" stroke-width="11" fill="none" stroke-linecap="round" stroke-linejoin="round"/>
<ellipse cx="694" cy="374" rx="6" ry="14" fill="#a1a1a1"/>
<ellipse cx="599" cy="437" rx="4" ry="9" fill="#4e4e4e"/>
<ellipse cx="482" cy="473" rx="7" ry="8" fill="#5d5d5d"/>
<ellipse cx="654" cy="456" rx="4" ry="4" fill="#494949"/>
<ellipse cx="634" cy="476" rx="9" ry="7" fill="#616161"/>
<ellipse cx="626" cy="483" rx="6" ry="6" fill="#4f4f4f"/>
<polyline points="682,460 692,478" stroke="#afafaf" stroke-width="7" fill="none" stroke-linecap="round" stroke-linejoin="round"/>
<ellipse cx="578" cy="482" rx="4" ry="5" fill="#bebebe"/>
<ellipse cx="563" cy="483" rx="4" ry="4" fill="#3f3f3f"/>
<ellipse cx="739" cy="322" rx="4.5" ry="6" fill="#a6a6a6"/>
<ellipse cx="840" cy="320" rx="5.5" ry="11" fill="#a7a7a7"/>
<polyline points="750,354 754,374" stroke="#636363" stroke-width="10" fill="none" stroke-linecap="round" stroke-linejoin="round"/>
<ellipse cx="829" cy="394" rx="3" ry="5" fill="#474747"/>
<ellipse cx="843" cy="390" rx="3.5" ry="5.5" fill="#afafaf"/>
<ellipse cx="848" cy="398" rx="3" ry="4" fill="#b2b2b2"/>
<ellipse cx="860" cy="366" rx="5.5" ry="5.5" fill="#a2a2a2"/>
<polyline points="925,330 927,342 935,358" stroke="#5f5f5f" stroke-width="8" fill="none" stroke-linecap="round" stroke-linejoin="round"/>
<ellipse cx="866" cy="419" rx="3" ry="7" fill="#aeaeae"/>
<ellipse cx="852" cy="420" rx="3" ry="3.5" fill="#474747"/>
<ellipse cx="772" cy="438" rx="7" ry="5" fill="#585858" transform="rotate(-30 772 438)"/>
<polyline points="753,476 780,461" stroke="#5e5e5e" stroke-width="10" fill="none" stroke-linecap="round" stroke-linejoin="round"/>
<ellipse cx="751" cy="478" rx="7" ry="6" fill="#4c4c4c"/>
<polyline points="802,458 797,484" stroke="#b2b2b2" stroke-width="11" fill="none" stroke-linecap="round" stroke-linejoin="round"/>
<polyline points="978,330 962,352" stroke="#4f4f4f" stroke-width="13" fill="none" stroke-linecap="round" stroke-linejoin="round"/>
<ellipse cx="962" cy="356" rx="8" ry="8" fill="#434343"/>
<polyline points="968,346 963,366" stroke="#5b5b5b" stroke-width="10" fill="none" stroke-linecap="round" stroke-linejoin="round"/>
<polyline points="985,326 972,344" stroke="#252525" stroke-width="9" fill="none" stroke-linecap="round" stroke-linejoin="round"/>
<polygon points="982,354 984,344 992,337 1000,331 1006,328 1031,328 1033,338 1031,346 1025,351 1019,354 1017,364 1015,376 1012,382 1009,376 1006,366 1002,361 997,364 994,372 990,376 985,372 982,363" fill="#a4a4a4"/>
<ellipse cx="1013" cy="353" rx="3" ry="4" fill="#a5a5a5"/>
<polygon points="1006,314 1012,314 1027,326 1030,338 1023,344 1012,343 1006.5,335" fill="#c4c4c4"/>
<ellipse cx="1198" cy="446.5" rx="4.5" ry="7" fill="#acacac" transform="rotate(-25 1198 446.5)"/>
<ellipse cx="1213.6" cy="396.6" rx="3" ry="6" fill="#b2b2b2" transform="rotate(20 1213.6 396.6)"/>
<ellipse cx="1213" cy="415.2" rx="6.5" ry="4.5" fill="#434343" transform="rotate(-20 1213 415.2)"/>
<ellipse cx="1098" cy="384.4" rx="4" ry="4" fill="#494949"/>
<polyline points="1068.6,414 1058,430" stroke="#5e5e5e" stroke-width="6" fill="none" stroke-linecap="round" stroke-linejoin="round"/>
<ellipse cx="1174" cy="435" rx="3" ry="2.5" fill="#b5b5b5"/>
<ellipse cx="1216.6" cy="453" rx="3" ry="3" fill="#4a4a4a"/>
<ellipse cx="197" cy="509" rx="8" ry="4.5" fill="#4c4c4c" transform="rotate(-35 197 509)"/>
<ellipse cx="266" cy="497" rx="5.5" ry="12" fill="#515151"/>
<polyline points="262,508 254,518" stroke="#5c5c5c" stroke-width="8" fill="none" stroke-linecap="round" stroke-linejoin="round"/>
<polyline points="252,522 247,536 238,546" stroke="#686868" stroke-width="7" fill="none" stroke-linecap="round" stroke-linejoin="round"/>
<ellipse cx="316" cy="493" rx="7" ry="9" fill="#5b5b5b"/>
<polyline points="318,502 316,512 304,522" stroke="#5b5b5b" stroke-width="7" fill="none" stroke-linecap="round" stroke-linejoin="round"/>
<ellipse cx="303" cy="524" rx="6" ry="7" fill="#5a5a5a"/>
<ellipse cx="333" cy="511" rx="6.5" ry="8.5" fill="#4b4b4b"/>
<polyline points="338,504 352,492 360,482" stroke="#535353" stroke-width="6" fill="none" stroke-linecap="round" stroke-linejoin="round"/>
<ellipse cx="361" cy="477" rx="7.5" ry="9" fill="#545454"/>
<ellipse cx="379.5" cy="485" rx="5.5" ry="10" fill="#b0b0b0"/>
<polyline points="384,476 390,464" stroke="#b5b5b5" stroke-width="4" fill="none" stroke-linecap="round" stroke-linejoin="round"/>
<ellipse cx="404" cy="497" rx="7" ry="8" fill="#9e9e9e"/>
<ellipse cx="430" cy="516" rx="4" ry="5" fill="#a7a7a7"/>
<polyline points="323,566 340,578 352,592" stroke="#666666" stroke-width="10" fill="none" stroke-linecap="round" stroke-linejoin="round"/>
<ellipse cx="509" cy="501" rx="7.5" ry="10.5" fill="#383838"/>
<polyline points="492,502 482,518 470,530" stroke="#5d5d5d" stroke-width="15" fill="none" stroke-linecap="round" stroke-linejoin="round"/>
<polyline points="488,490 490,500" stroke="#606060" stroke-width="7" fill="none" stroke-linecap="round" stroke-linejoin="round"/>
<polyline points="468,532 461,539" stroke="#636363" stroke-width="8" fill="none" stroke-linecap="round" stroke-linejoin="round"/>
<polygon points="521,490 528,491 546,505 543,511 524,516 521,510" fill="#a9a9a9"/>
<ellipse cx="531" cy="502" rx="5.5" ry="5.5" fill="#c0c0c0"/>
<ellipse cx="562" cy="486" rx="3.5" ry="6.5" fill="#494949"/>
<ellipse cx="558" cy="510" rx="3.5" ry="6.5" fill="#494949"/>
<ellipse cx="578" cy="487" rx="4.5" ry="7.5" fill="#afafaf"/>
<polyline points="591,492 579,502" stroke="#575757" stroke-width="6.5" fill="none" stroke-linecap="round" stroke-linejoin="round"/>
<polyline points="608,494 594,516" stroke="#b0b0b0" stroke-width="4.5" fill="none" stroke-linecap="round" stroke-linejoin="round"/>
<ellipse cx="626" cy="488" rx="7.5" ry="9" fill="#585858"/>
<polyline points="624,496 613,513" stroke="#5c5c5c" stroke-width="6" fill="none" stroke-linecap="round" stroke-linejoin="round"/>
<ellipse cx="640" cy="506" rx="7" ry="11" fill="#5c5c5c"/>
<polyline points="637,514 630,522 614,534 596,549" stroke="#616161" stroke-width="10" fill="none" stroke-linecap="round" stroke-linejoin="round"/>
<ellipse cx="531" cy="601" rx="5.5" ry="9.5" fill="#545454"/>
<polyline points="514,577 526,590" stroke="#6a6a6a" stroke-width="9" fill="none" stroke-linecap="round" stroke-linejoin="round"/>
<polyline points="538,612 552,622" stroke="#6a6a6a" stroke-width="8" fill="none" stroke-linecap="round" stroke-linejoin="round"/>
<ellipse cx="661" cy="648" rx="4.5" ry="5.5" fill="#4e4e4e"/>
<ellipse cx="621" cy="656" rx="3.5" ry="7.5" fill="#505050"/>
<polyline points="693,481 698,496 705,512 716,533" stroke="#a7a7a7" stroke-width="12" fill="none" stroke-linecap="round" stroke-linejoin="round"/>
<polyline points="697,492 706,514" stroke="#b1b1b1" stroke-width="6" fill="none" stroke-linecap="round" stroke-linejoin="round"/>
<polyline points="731,491 735,529" stroke="#5e5e5e" stroke-width="8.5" fill="none" stroke-linecap="round" stroke-linejoin="round"/>
<ellipse cx="754" cy="486" rx="6" ry="10" fill="#565656"/>
<ellipse cx="751" cy="519" rx="2.5" ry="3.5" fill="#b6b6b6"/>
<polyline points="762,507 771,522 779,538" stroke="#575757" stroke-width="10" fill="none" stroke-linecap="round" stroke-linejoin="round"/>
<ellipse cx="779" cy="537" rx="5.5" ry="8" fill="#414141"/>
<polyline points="768,551 754,552" stroke="#606060" stroke-width="7" fill="none" stroke-linecap="round" stroke-linejoin="round"/>
<ellipse cx="753" cy="546" rx="4" ry="4" fill="#494949"/>
<ellipse cx="796" cy="486" rx="6.5" ry="10" fill="#acacac"/>
<ellipse cx="807" cy="523" rx="7.5" ry="5" fill="#535353" transform="rotate(25 807 523)"/>
<ellipse cx="839" cy="521" rx="8" ry="7" fill="#afafaf"/>
<polyline points="824,517 832,519" stroke="#b6b6b6" stroke-width="4" fill="none" stroke-linecap="round" stroke-linejoin="round"/>
<ellipse cx="874" cy="535" rx="5.5" ry="8.5" fill="#a0a0a0"/>
<ellipse cx="894" cy="522" rx="2.5" ry="4.5" fill="#b6b6b6"/>
<polygon points="899,529 910,540 903,556 896,555 889,543" fill="#525252"/>
<ellipse cx="929" cy="538" rx="4" ry="8" fill="#adadad"/>
<ellipse cx="957" cy="535" rx="6.5" ry="11.5" fill="#4c4c4c"/>
<ellipse cx="942" cy="495" rx="3" ry="4" fill="#b0b0b0"/>
<polyline points="770,622 772,660" stroke="#545454" stroke-width="7" fill="none" stroke-linecap="round" stroke-linejoin="round"/>
<ellipse cx="729" cy="632" rx="4" ry="6" fill="#565656" transform="rotate(25 729 632)"/>
<ellipse cx="865" cy="605" rx="4.5" ry="5.5" fill="#575757"/>
<ellipse cx="877" cy="620" rx="3.5" ry="5.5" fill="#4f4f4f" transform="rotate(25 877 620)"/>
<polyline points="951,646 963,667" stroke="#5a5a5a" stroke-width="10" fill="none" stroke-linecap="round" stroke-linejoin="round"/>
<ellipse cx="984" cy="536" rx="2.5" ry="5.5" fill="#b0b0b0"/>
<polyline points="998,494 999,515 1002,538" stroke="#606060" stroke-width="5.5" fill="none" stroke-linecap="round" stroke-linejoin="round"/>
<ellipse cx="999" cy="528" rx="3" ry="8" fill="#444444"/>
<ellipse cx="1023" cy="528.7" rx="6" ry="7" fill="#adadad"/>
<polyline points="1034,537 1044,545 1052,554 1062,563 1066,567" stroke="#aeaeae" stroke-width="11" fill="none" stroke-linecap="round" stroke-linejoin="round"/>
<ellipse cx="1043.5" cy="545" rx="5" ry="6" fill="#c5c5c5" transform="rotate(40 1043.5 545)"/>
<polyline points="1043.5,524 1043,537" stroke="#b1b1b1" stroke-width="6" fill="none" stroke-linecap="round" stroke-linejoin="round"/>
<polyline points="1070,523 1062,532 1057,541" stroke="#5c5c5c" stroke-width="11" fill="none" stroke-linecap="round" stroke-linejoin="round"/>
<ellipse cx="1027.2" cy="550.4" rx="4" ry="4.5" fill="#454545"/>
<ellipse cx="1044" cy="565.6" rx="3.8" ry="6.5" fill="#434343"/>
<ellipse cx="1024.8" cy="579" rx="3.8" ry="5.5" fill="#4a4a4a"/>
<ellipse cx="1046.4" cy="587.2" rx="3.8" ry="6.5" fill="#4e4e4e" transform="rotate(20 1046.4 587.2)"/>
<ellipse cx="1016" cy="605.7" rx="4.5" ry="10.5" fill="#5b5b5b" transform="rotate(10 1016 605.7)"/>
<ellipse cx="1074.4" cy="576.8" rx="3.5" ry="3.5" fill="#b5b5b5"/>
<ellipse cx="1095.5" cy="548" rx="4.5" ry="9" fill="#aaaaaa"/>
<ellipse cx="1084.8" cy="543.2" rx="4" ry="4" fill="#aeaeae"/>
<polyline points="1110,559 1134,559" stroke="#b0b0b0" stroke-width="7" fill="none" stroke-linecap="round" stroke-linejoin="round"/>
<polyline points="1115,560 1115,580" stroke="#b5b5b5" stroke-width="8" fill="none" stroke-linecap="round" stroke-linejoin="round"/>
<polyline points="1126,562 1120,576" stroke="#b0b0b0" stroke-width="7" fill="none" stroke-linecap="round" stroke-linejoin="round"/>
<polyline points="1096,562 1096,580" stroke="#acacac" stroke-width="7" fill="none" stroke-linecap="round" stroke-linejoin="round"/>
<ellipse cx="1102" cy="588" rx="11" ry="9" fill="#a4a4a4"/>
<ellipse cx="1094.4" cy="569.6" rx="4" ry="4" fill="#b2b2b2"/>
<polyline points="1126,517 1118,530" stroke="#acacac" stroke-width="5" fill="none" stroke-linecap="round" stroke-linejoin="round"/>
<ellipse cx="1148.7" cy="530.7" rx="2.5" ry="8" fill="#b4b4b4"/>
<ellipse cx="1151.7" cy="549" rx="2.5" ry="5" fill="#b6b6b6"/>
<ellipse cx="1164" cy="530.7" rx="5.5" ry="12.5" fill="#555555"/>
<ellipse cx="1143.6" cy="575.3" rx="5.5" ry="9.5" fill="#545454"/>
<polyline points="1158,563 1164,558" stroke="#545454" stroke-width="6" fill="none" stroke-linecap="round" stroke-linejoin="round"/>
<ellipse cx="1162.6" cy="541.4" rx="4" ry="3" fill="#3a3a3a"/>
<ellipse cx="1125.4" cy="595.6" rx="6" ry="9" fill="#4c4c4c"/>
<ellipse cx="1122.3" cy="620" rx="12" ry="15" fill="#5e5e5e"/>
<ellipse cx="1155.8" cy="600" rx="8" ry="15" fill="#515151"/>
<polyline points="1154,612 1153,622" stroke="#616161" stroke-width="9" fill="none" stroke-linecap="round" stroke-linejoin="round"/>
<polyline points="1175,490 1177,510" stroke="#a1a1a1" stroke-width="8" fill="none" stroke-linecap="round" stroke-linejoin="round"/>
<ellipse cx="1185" cy="530.7" rx="6.5" ry="9" fill="#a6a6a6"/>
<polyline points="1180,518 1183,528" stroke="#a9a9a9" stroke-width="6" fill="none" stroke-linecap="round" stroke-linejoin="round"/>
<polyline points="1180,540 1177,552" stroke="#a7a7a7" stroke-width="6" fill="none" stroke-linecap="round" stroke-linejoin="round"/>
<polyline points="1179,561 1188,569.5 1196,577 1202,585 1207,594" stroke="#a9a9a9" stroke-width="10" fill="none" stroke-linecap="round" stroke-linejoin="round"/>
<ellipse cx="1176.6" cy="590.4" rx="5" ry="5" fill="#bdbdbd"/>
<ellipse cx="1188.5" cy="584.8" rx="3" ry="6" fill="#757575"/>
<ellipse cx="1197.8" cy="607" rx="14.5" ry="20.5" fill="#a5a5a5" transform="rotate(15 1197.8 607)"/>
<ellipse cx="1197.5" cy="606.5" rx="12.3" ry="17.8" fill="#cbcbcb" transform="rotate(15 1197.5 606.5)"/>
<ellipse cx="1178" cy="618.5" rx="3.8" ry="8.5" fill="#474747"/>
<ellipse cx="1208.5" cy="567" rx="2.5" ry="5" fill="#494949"/>
<polygon points="1177,640 1190,634 1206,634 1212,644 1230,660 1230,684 1190,684 1188,660 1180,660 1180,684 1172,684 1172,656" fill="#545454"/>
<ellipse cx="1184" cy="669" rx="2" ry="7" fill="#878787"/>
<ellipse cx="1163" cy="656" rx="8" ry="16" fill="#646464"/>
<polyline points="955,649 968,673" stroke="#5a5a5a" stroke-width="10" fill="none" stroke-linecap="round" stroke-linejoin="round"/>
<ellipse cx="990.5" cy="662.5" rx="3.5" ry="9.5" fill="#a4a4a4"/>
</g>
<g filter="url(#bl1)">
<polygon points="992.9,317.5 1002.6,317.5 1002.6,322.2 996.6,329 992.6,335.6 983.2,343 975,346.3 968.6,345 977,337.8 981,325.8 982.4,322.5 992.5,321.5" fill="#000000"/>
<polygon points="1004.8,314.5 1010.1,315.2 1010.8,318.5 1018.1,319.2 1018.8,321.8 1022.1,322.5 1022.8,325.8 1025.4,327.1 1025.4,331.8 1017.4,333.8 1009.5,331.1 1005.5,324.5" fill="#ffffff"/>
<polygon points="1190.6,598.8 1196.2,594.6 1203.2,591.8 1206,596 1206.7,605.9 1203.9,615.7 1197.6,619.9 1192,619.9 1189.2,612.9 1187.8,605.9" fill="#ffffff"/>
</g>
</g>
<path fill="#fff" d="M892.9 285.7h217.7v4.08h-217.7zM896.7 289.5h214.0v4.08h-214.0zM900.4 293.3h210.2v4.08h-210.2zM907.9 297.0h202.7v4.08h-202.7zM915.5 300.8h191.4v4.08h-191.4zM923.0 304.6h183.9v4.08h-183.9zM934.2 308.4h172.7v4.08h-172.7zM945.5 312.2h161.4v4.08h-161.4zM1110.6 312.2h7.5v4.08h-7.5zM1125.7 312.2h37.5v4.08h-37.5zM953.0 316.0h48.8v4.08h-48.8zM1009.3 316.0h161.4v4.08h-161.4zM968.0 319.7h26.3v4.08h-26.3zM1016.8 319.7h157.7v4.08h-157.7zM1020.6 323.5h157.6v4.08h-157.6zM1024.3 327.3h157.6v4.08h-157.6zM1031.8 331.1h150.1v4.08h-150.1zM1035.6 334.9h146.4v4.08h-146.4zM1039.3 338.6h146.4v4.08h-146.4zM1043.1 342.4h142.6v4.08h-142.6zM1050.6 346.2h131.4v4.08h-131.4zM1061.8 350.0h120.1v4.08h-120.1zM1073.1 353.8h105.1v4.08h-105.1zM1080.6 357.6h97.6v4.08h-97.6zM1106.9 361.3h71.3v4.08h-71.3zM1110.6 365.1h67.6v4.08h-67.6zM1114.4 368.9h63.8v4.08h-63.8zM1114.4 372.7h63.8v4.08h-63.8zM1118.1 376.5h60.1v4.08h-60.1zM1121.9 380.2h56.3v4.08h-56.3zM1125.7 384.0h52.5v4.08h-52.5zM1133.2 387.8h45.0v4.08h-45.0zM1136.9 391.6h41.3v4.08h-41.3zM1136.9 395.4h45.0v4.08h-45.0zM1136.9 399.2h45.0v4.08h-45.0zM1136.9 402.9h48.8v4.08h-48.8zM1136.9 406.7h52.6v4.08h-52.6zM1136.9 410.5h60.1v4.08h-60.1zM1148.2 414.3h3.8v4.08h-3.8zM1155.7 414.3h41.3v4.08h-41.3zM1219.5 414.3h7.5v4.08h-7.5zM1163.2 418.1h63.8v4.08h-63.8zM1166.9 421.8h60.1v4.08h-60.1zM1166.9 425.6h60.1v4.08h-60.1zM1166.9 429.4h60.1v4.08h-60.1zM1174.5 433.2h52.5v4.08h-52.5zM1178.2 437.0h7.5v4.08h-7.5zM1193.2 437.0h33.8v4.08h-33.8zM1200.7 440.8h26.3v4.08h-26.3zM1208.2 444.5h18.8v4.08h-18.8zM1208.2 448.3h18.8v4.08h-18.8zM1212.0 452.1h3.8v4.08h-3.8zM1215.7 558.0h11.3v4.08h-11.3zM1215.7 561.8h11.3v4.08h-11.3zM1215.7 565.5h11.3v4.08h-11.3zM1208.2 569.3h18.8v4.08h-18.8zM1208.2 573.1h18.8v4.08h-18.8zM1208.2 576.9h18.8v4.08h-18.8zM1212.0 580.7h15.0v4.08h-15.0zM1212.0 584.5h15.0v4.08h-15.0zM1208.2 588.2h18.8v4.08h-18.8zM1208.2 592.0h18.8v4.08h-18.8zM1212.0 595.8h15.0v4.08h-15.0zM1215.7 599.6h11.3v4.08h-11.3zM1219.5 603.4h7.5v4.08h-7.5zM1219.5 607.1h7.5v4.08h-7.5zM1212.0 610.9h15.0v4.08h-15.0zM1208.2 614.7h18.8v4.08h-18.8zM1204.5 618.5h22.5v4.08h-22.5zM1200.7 622.3h26.3v4.08h-26.3zM1200.7 626.1h26.3v4.08h-26.3zM1204.5 629.8h22.5v4.08h-22.5zM1204.5 633.6h22.5v4.08h-22.5zM1204.5 637.4h22.5v4.08h-22.5zM1208.2 641.2h18.8v4.08h-18.8zM1204.5 645.0h22.5v4.08h-22.5zM1204.5 648.7h22.5v4.08h-22.5zM1208.2 652.5h18.8v4.08h-18.8zM1215.7 656.3h11.3v4.08h-11.3zM1219.5 660.1h7.5v4.08h-7.5z"/>
<rect x="1221.5" y="545.5" width="6" height="18" fill="#fff"/>
<rect x="1049.2" y="568" width="18" height="7.6" fill="#fff"/>
<polygon points="880,270 899.3,288 911.2,296.6 923.2,301.2 933.8,305.9 941.8,307.9 956.4,315.2 964.3,316.8 982.9,321.4 990.9,318.1 999.5,313.9 1006.8,313.9 1016.1,316.2 1024.1,321.2 1034.7,331.1 1046.6,342.4 1054.6,345.7 1061.2,348.1 1069.9,348.4 1076.6,351.7 1080.5,355.7 1087.2,356.3 1094.8,359.4 1109.2,359.2 1111.8,356.2 1116.4,361.6 1112.2,362.8 1120,372.4 1129.6,382 1139.8,389.2 1140.4,397.6 1139.2,403.6 1141.6,409 1149.4,412.6 1154.2,408.4 1159.6,413.8 1166.8,418 1171.6,424 1171.6,430 1178.8,433 1181.8,435.4 1184.8,433.3 1193.2,434.8 1200.4,437.8 1204,441.4 1211.8,442.6 1213.6,450.4 1225,446.8 1240,443 1240,417 1225,421 1205.8,427 1200.4,423.4 1194.4,422.2 1192,416.8 1184.8,412 1178.8,406.6 1172.8,396.4 1169.4,389.2 1171.6,384.4 1172.2,374.8 1174.6,364 1174.6,350.2 1178.2,344.8 1178.5,343.1 1178.1,331.8 1170.1,327.1 1162.8,320.5 1151.6,317.6 1144.3,319.2 1137,317.6 1122.3,321.2 1112.4,319.2 1104.4,322.5 1092.5,316.8 1099.8,311.2 1103.1,301.9 1103.8,288 1104,270" fill="#808080" stroke="#000" stroke-width="1.2" stroke-linejoin="round"/>
<polygon points="1240,560 1225,561 1221.5,562.4 1219.4,570.1 1213.3,573.6 1215.1,580.6 1215.8,591.8 1213.7,593.5 1220,597.4 1225,602.3 1240,606" fill="#808080" stroke="#000" stroke-width="1.2" stroke-linejoin="round"/>
<polygon points="1240,608 1225,610.8 1215.9,615.7 1208.1,622 1206.7,626.2 1208.1,632.5 1211.6,640.9 1214.4,644.4 1209.5,648.6 1217.3,654.2 1225,659.1 1240,662" fill="#808080" stroke="#000" stroke-width="1.2" stroke-linejoin="round"/>
<polygon points="1055.2,557.2 1058.4,560.8 1064,569.6 1059.2,574.8 1054.8,572.8 1058.4,569.6 1054.4,565.6" fill="#808080" stroke="#000" stroke-width="1.4" stroke-linejoin="round"/>
<polygon points="1225,434.2 1220.2,436 1219.6,437.8 1222,442 1225,444.4 1240,446 1240,434" fill="#fff" stroke="#000" stroke-width="1.2" stroke-linejoin="round"/>
</g>
<g stroke="#000" stroke-opacity="0.85" stroke-width="1.35" fill="none"><line x1="187.75" y1="331.9" x2="1215" y2="331.9" stroke-dasharray="1.3 2.7"/><line x1="187.75" y1="408.1" x2="1215" y2="408.1" stroke-dasharray="1.3 2.7"/><line x1="187.75" y1="483.7" x2="1215" y2="483.7" stroke-dasharray="1.3 2.7"/><line x1="187.75" y1="558.9" x2="1215" y2="558.9" stroke-dasharray="1.3 2.7"/><line x1="187.75" y1="633.9" x2="1215" y2="633.9" stroke-dasharray="1.3 2.7"/><line x1="401.214" y1="297.75" x2="401.214" y2="668" stroke-dasharray="1.3 2.7"/><line x1="626.429" y1="297.75" x2="626.429" y2="668" stroke-dasharray="1.3 2.7"/><line x1="851.643" y1="297.75" x2="851.643" y2="668" stroke-dasharray="1.3 2.7"/><line x1="1076.86" y1="297.75" x2="1076.86" y2="668" stroke-dasharray="1.3 2.7"/></g>
<g stroke="#000" stroke-width="3.9" fill="none"><line x1="176" y1="331.9" x2="186.4" y2="331.9"/><line x1="1227" y1="331.9" x2="1216.6" y2="331.9"/><line x1="176" y1="408.1" x2="186.4" y2="408.1"/><line x1="1227" y1="408.1" x2="1216.6" y2="408.1"/><line x1="176" y1="483.7" x2="186.4" y2="483.7"/><line x1="1227" y1="483.7" x2="1216.6" y2="483.7"/><line x1="176" y1="558.9" x2="186.4" y2="558.9"/><line x1="1227" y1="558.9" x2="1216.6" y2="558.9"/><line x1="176" y1="633.9" x2="186.4" y2="633.9"/><line x1="1227" y1="633.9" x2="1216.6" y2="633.9"/><line x1="401.214" y1="285.7" x2="401.214" y2="296.2" /><line x1="401.214" y1="679" x2="401.214" y2="668.6" /><line x1="626.429" y1="285.7" x2="626.429" y2="296.2" /><line x1="626.429" y1="679" x2="626.429" y2="668.6" /><line x1="851.643" y1="285.7" x2="851.643" y2="296.2" /><line x1="851.643" y1="679" x2="851.643" y2="668.6" /><line x1="1076.86" y1="285.7" x2="1076.86" y2="296.2" /><line x1="1076.86" y1="679" x2="1076.86" y2="668.6" /></g>
<rect x="176" y="285.7" width="1051" height="393.3" fill="none" stroke="#000" stroke-width="4" stroke-linejoin="round"/>
<text x="344" y="234.8" font-size="31.37" font-weight="bold" fill="#000">AVHRR Zonal Sea Surface Temperature Gradient</text>
<text x="702.1" y="275.1" font-size="25" font-weight="bold" fill="#000" text-anchor="middle">2019-11-04</text>
<text x="171.4" y="340.8" font-size="16.6" fill="#000" text-anchor="end">15<tspan font-size="12.3" dy="-7.8">o</tspan><tspan dy="7.8" dx="1.2">N</tspan></text>
<text x="171.4" y="417" font-size="16.6" fill="#000" text-anchor="end">10<tspan font-size="12.3" dy="-7.8">o</tspan><tspan dy="7.8" dx="1.2">N</tspan></text>
<text x="171.4" y="492.6" font-size="16.6" fill="#000" text-anchor="end">5<tspan font-size="12.3" dy="-7.8">o</tspan><tspan dy="7.8" dx="1.2">N</tspan></text>
<text x="165.5" y="567.8" font-size="16.6" fill="#000" text-anchor="end">0<tspan font-size="12.3" dy="-7.8">o</tspan></text>
<text x="171.4" y="642.8" font-size="16.6" fill="#000" text-anchor="end">5<tspan font-size="12.3" dy="-7.8">o</tspan><tspan dy="7.8" dx="1.2">S</tspan></text>
<text x="176.6" y="700.8" font-size="16.6" fill="#000" text-anchor="middle">150<tspan font-size="12.3" dy="-7.8">o</tspan><tspan dy="7.8" dx="1.2">W</tspan></text>
<text x="401.814" y="700.8" font-size="16.6" fill="#000" text-anchor="middle">135<tspan font-size="12.3" dy="-7.8">o</tspan><tspan dy="7.8" dx="1.2">W</tspan></text>
<text x="627.029" y="700.8" font-size="16.6" fill="#000" text-anchor="middle">120<tspan font-size="12.3" dy="-7.8">o</tspan><tspan dy="7.8" dx="1.2">W</tspan></text>
<text x="852.243" y="700.8" font-size="16.6" fill="#000" text-anchor="middle">105<tspan font-size="12.3" dy="-7.8">o</tspan><tspan dy="7.8" dx="1.2">W</tspan></text>
<text x="1077.46" y="700.8" font-size="16.6" fill="#000" text-anchor="middle">90<tspan font-size="12.3" dy="-7.8">o</tspan><tspan dy="7.8" dx="1.2">W</tspan></text>
<rect x="174.5" y="711.3" width="1050.3" height="19.4" fill="url(#cb)" stroke="#262626" stroke-width="1"/>
<g stroke="#262626" stroke-width="1"><line x1="349.55" y1="730.7" x2="349.55" y2="720.5"/><line x1="524.6" y1="730.7" x2="524.6" y2="720.5"/><line x1="699.65" y1="730.7" x2="699.65" y2="720.5"/><line x1="874.7" y1="730.7" x2="874.7" y2="720.5"/><line x1="1049.75" y1="730.7" x2="1049.75" y2="720.5"/></g>
<text x="174.1" y="754.9" font-size="16.67" fill="#262626" text-anchor="middle">-0.03</text>
<text x="349.15" y="754.9" font-size="16.67" fill="#262626" text-anchor="middle">-0.02</text>
<text x="524.2" y="754.9" font-size="16.67" fill="#262626" text-anchor="middle">-0.01</text>
<text x="699.95" y="754.9" font-size="16.67" fill="#262626" text-anchor="middle">0</text>
<text x="875" y="754.9" font-size="16.67" fill="#262626" text-anchor="middle">0.01</text>
<text x="1050.05" y="754.9" font-size="16.67" fill="#262626" text-anchor="middle">0.02</text>
<text x="1225.1" y="754.9" font-size="16.67" fill="#262626" text-anchor="middle">0.03</text>
<text x="700" y="778.9" font-size="16.67" fill="#262626" text-anchor="middle">°C/km</text>
</svg></body></html>
